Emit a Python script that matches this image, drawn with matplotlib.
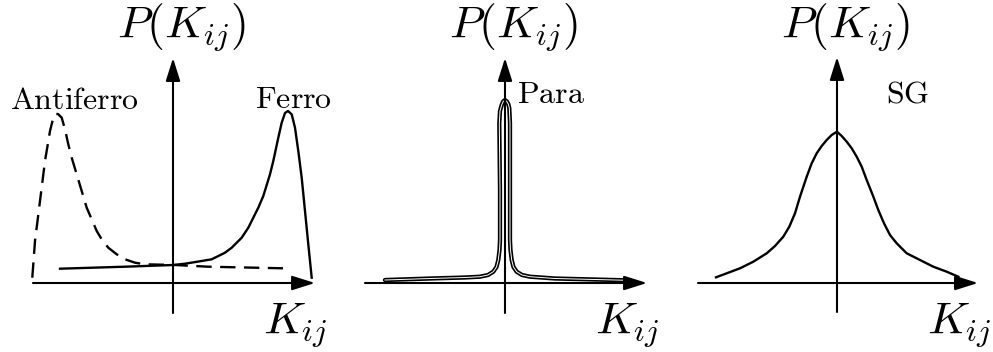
import numpy as np
import matplotlib.pyplot as plt

plt.rcParams['mathtext.fontset'] = 'cm'

# curvas dibujadas a mano: K_ij (horizontal) y P(K_ij) (vertical)
# panel 1: antiferro (discontinua) y ferro (continua)
k_anti = [-1.407, -1.38, -1.33, -1.28, -1.23, -1.20, -1.18, -1.15, -1.113, -1.08,
          -1.047, -1.013, -0.963, -0.913, -0.863, -0.813, -0.763, -0.713, -0.647,
          -0.563, -0.48, -0.38, -0.28, 0.02, 0.35, 1.10]
p_anti = [0.053, 0.42, 0.82, 1.22, 1.52, 1.64, 1.69, 1.69, 1.653, 1.537,
          1.387, 1.253, 1.087, 0.92, 0.753, 0.637, 0.52, 0.437, 0.353,
          0.287, 0.237, 0.203, 0.187, 0.18, 0.163, 0.147]

k_ferro = [-1.13, -0.48, 0.003, 0.12, 0.287, 0.387, 0.52, 0.587, 0.687, 0.753,
           0.853, 0.903, 0.97, 1.003, 1.053, 1.087, 1.12, 1.15, 1.187, 1.22,
           1.253, 1.287, 1.32, 1.353, 1.387]
p_ferro = [0.143, 0.163, 0.18, 0.193, 0.22, 0.237, 0.303, 0.353, 0.453, 0.553,
           0.753, 0.87, 1.087, 1.22, 1.453, 1.603, 1.70, 1.72, 1.687, 1.553,
           1.32, 1.053, 0.72, 0.387, 0.053]

# panel 2: para (pico muy estrecho)
k_para = [-1.2, -0.683, -0.4, -0.25, -0.17, -0.117, -0.085, -0.067, -0.055, -0.05,
          -0.05, -0.057, -0.05, -0.033, -0.018, 0.0, 0.018, 0.033, 0.043, 0.05,
          0.05, 0.05, 0.055, 0.067, 0.085, 0.117, 0.17, 0.25, 0.5, 1.217]
p_para = [0.03, 0.047, 0.055, 0.063, 0.08, 0.113, 0.16, 0.23, 0.33, 0.43,
          0.93, 1.597, 1.72, 1.78, 1.815, 1.83, 1.815, 1.79, 1.75, 1.597,
          0.93, 0.43, 0.33, 0.23, 0.16, 0.113, 0.08, 0.063, 0.045, 0.027]

# panel 3: spin glass
k_sg = [-1.21, -1.103, -0.97, -0.837, -0.703, -0.62, -0.537, -0.477, -0.42, -0.37,
        -0.303, -0.253, -0.203, -0.153, -0.103, -0.053, 0.0, 0.047, 0.097, 0.147,
        0.197, 0.247, 0.297, 0.357, 0.413, 0.47, 0.53, 0.597, 0.697, 0.83,
        0.963, 1.097, 1.213]
p_sg = [0.057, 0.097, 0.147, 0.213, 0.297, 0.37, 0.463, 0.563, 0.697, 0.863,
        1.063, 1.197, 1.297, 1.37, 1.43, 1.48, 1.513, 1.47, 1.413, 1.347,
        1.263, 1.163, 1.03, 0.88, 0.73, 0.597, 0.48, 0.397, 0.297, 0.23,
        0.163, 0.113, 0.063]

W, H = 993, 352
fig = plt.figure(figsize=(W / 100, H / 100), dpi=100)

# (borde izq px, borde der px, origen x px), origen y comun
paneles = [(0, 340, 173), (340, 670, 505), (670, 993, 837)]
oy = 283

def ejes(ax, xmin, xmax, ymin, ymax):
    flecha = dict(arrowstyle='-|>,head_length=0.7,head_width=0.22',
                  lw=1.5, color='k', mutation_scale=20, shrinkA=0, shrinkB=0)
    ax.annotate('', xy=(xmax, 0), xytext=(xmin, 0), arrowprops=flecha)
    ax.annotate('', xy=(0, ymax), xytext=(0, ymin), arrowprops=flecha)
    ax.text(0.08, 2.56, r'$P(K_{ij})$', fontsize=33, ha='center', va='center')
    ax.text(1.22, -0.42, r'$K_{ij}$', fontsize=33, ha='center', va='center')

axs = []
for a, b, ox in paneles:
    ax = fig.add_axes([a / W, 0, (b - a) / W, 1])
    ax.set_xlim((a - ox) / 100, (b - ox) / 100)
    ax.set_ylim(-(H - oy) / 100, oy / 100)
    ax.axis('off')
    axs.append(ax)

# Antiferro / Ferro
ax = axs[0]
ejes(ax, -1.40, 1.42, -0.30, 2.25)
ax.plot(k_anti, p_anti, 'k', lw=1.7, dashes=(6.5, 3.6), solid_joinstyle='round',
        dash_joinstyle='round')
ax.plot(k_ferro, p_ferro, 'k', lw=1.7, solid_joinstyle='round')
ax.text(-0.99, 1.74, r'$\mathrm{Antiferro}$', fontsize=23, ha='center', va='baseline')
ax.text(1.21, 1.75, r'$\mathrm{Ferro}$', fontsize=23, ha='center', va='baseline')

# Para: trazo hueco
ax = axs[1]
ejes(ax, -1.40, 1.42, -0.30, 2.25)
ax.plot(k_para, p_para, 'k', lw=3.1, solid_joinstyle='round', solid_capstyle='round')
ax.plot(k_para, p_para, 'w', lw=0.7, solid_joinstyle='round')
ax.text(0.12, 1.80, r'$\mathrm{Para}$', fontsize=23, ha='left', va='baseline')

# SG
ax = axs[2]
ejes(ax, -1.39, 1.41, -0.29, 2.26)
ax.plot(k_sg, p_sg, 'k', lw=1.7, solid_joinstyle='round')
ax.text(0.71, 1.80, r'$\mathrm{SG}$', fontsize=23, ha='center', va='baseline')

fig.savefig('out.png', dpi=100, facecolor='white')
